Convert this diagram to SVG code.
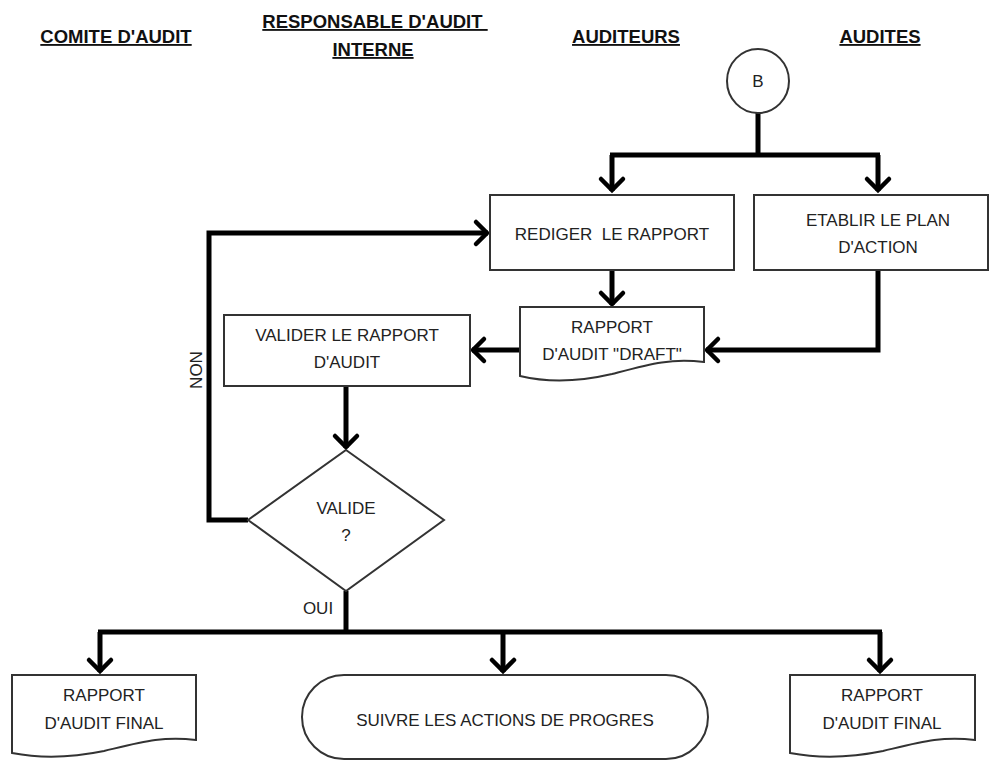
<svg xmlns="http://www.w3.org/2000/svg" width="990" height="762" viewBox="0 0 990 762">
<style>
.hd{font-family:"Liberation Sans",Arial,sans-serif;font-weight:bold;font-size:18.5px;text-decoration:underline;fill:#111;text-anchor:middle;white-space:pre}
.t{font-family:"Liberation Sans",Arial,sans-serif;font-size:17px;fill:#222;text-anchor:middle;white-space:pre}
.sh{fill:#fff;stroke:#333;stroke-width:2}
.cn{fill:none;stroke:#000;stroke-width:5;stroke-linejoin:miter}
</style>
<defs>
<marker id="ar" markerUnits="userSpaceOnUse" viewBox="-16 -16 32 32" refX="0" refY="0" markerWidth="32" markerHeight="32" orient="auto">
<path d="M-12,-11 L-1,0 L-12,11" fill="none" stroke="#000" stroke-width="4.5" stroke-linecap="round" stroke-linejoin="miter"/>
</marker>
</defs>
<rect width="990" height="762" fill="#fff"/>
<g id="headers">
<text class="hd" x="116" y="43">COMITE D'AUDIT</text>
<text class="hd" x="375" y="28">RESPONSABLE D'AUDIT </text>
<text class="hd" x="373" y="56">INTERNE</text>
<text class="hd" x="626" y="43">AUDITEURS</text>
<text class="hd" x="880" y="43">AUDITES</text>
</g>
<g id="connectors">
<path class="cn" d="M758,113 V155"/>
<path class="cn" d="M610,155 H880"/>
<path class="cn" d="M612,155 V191" marker-end="url(#ar)"/>
<path class="cn" d="M878,155 V191" marker-end="url(#ar)"/>
<path class="cn" d="M612,270 V305" marker-end="url(#ar)"/>
<path class="cn" d="M878,270 V350 H706" marker-end="url(#ar)"/>
<path class="cn" d="M520,350 H472" marker-end="url(#ar)"/>
<path class="cn" d="M346,386 V448" marker-end="url(#ar)"/>
<path class="cn" d="M248,520 H209 V233 H488" marker-end="url(#ar)"/>
<path class="cn" d="M346,591 V632"/>
<path class="cn" d="M98,632 H882"/>
<path class="cn" d="M100,632 V672" marker-end="url(#ar)"/>
<path class="cn" d="M503,632 V672" marker-end="url(#ar)"/>
<path class="cn" d="M880,632 V672" marker-end="url(#ar)"/>
<text class="t" x="0" y="0" transform="translate(202,370) rotate(-90)">NON</text>
<text class="t" x="318" y="614">OUI</text>
</g>
<g id="nodeB">
<ellipse class="sh" cx="758" cy="81" rx="31" ry="32"/>
<text class="t" x="758" y="87">B</text>
</g>
<g id="rediger">
<rect class="sh" x="490" y="195" width="244" height="75"/>
<text class="t" x="612" y="240">REDIGER  LE RAPPORT</text>
</g>
<g id="etablir">
<rect class="sh" x="754" y="195" width="234" height="75"/>
<text class="t" x="878" y="226">ETABLIR LE PLAN</text>
<text class="t" x="878" y="253">D'ACTION</text>
</g>
<g id="draft">
<path class="sh" d="M520,307 H704 V362 C670,358 650,364 612,374 C578,382 545,382 520,376 Z"/>
<text class="t" x="612" y="333">RAPPORT</text>
<text class="t" x="612" y="360">D'AUDIT "DRAFT"</text>
</g>
<g id="valider">
<rect class="sh" x="224" y="315" width="246" height="71"/>
<text class="t" x="347" y="341">VALIDER LE RAPPORT</text>
<text class="t" x="347" y="368">D'AUDIT</text>
</g>
<g id="valide">
<polygon class="sh" points="346,450 444,520 346,591 248,520"/>
<text class="t" x="346" y="514">VALIDE</text>
<text class="t" x="346" y="541">?</text>
</g>
<g id="final1">
<path class="sh" d="M12,675 H196 V740 C162,736 142,742 104,751 C70,758 38,758 12,753 Z"/>
<text class="t" x="104" y="701">RAPPORT</text>
<text class="t" x="104" y="729">D'AUDIT FINAL</text>
</g>
<g id="suivre">
<rect class="sh" x="302" y="675" width="406" height="84" rx="42" ry="42"/>
<text class="t" x="505" y="726">SUIVRE LES ACTIONS DE PROGRES</text>
</g>
<g id="final2">
<path class="sh" d="M790,675 H975 V740 C941,736 921,742 883,751 C849,758 816,758 790,753 Z"/>
<text class="t" x="882" y="701">RAPPORT</text>
<text class="t" x="882" y="729">D'AUDIT FINAL</text>
</g>
</svg>
